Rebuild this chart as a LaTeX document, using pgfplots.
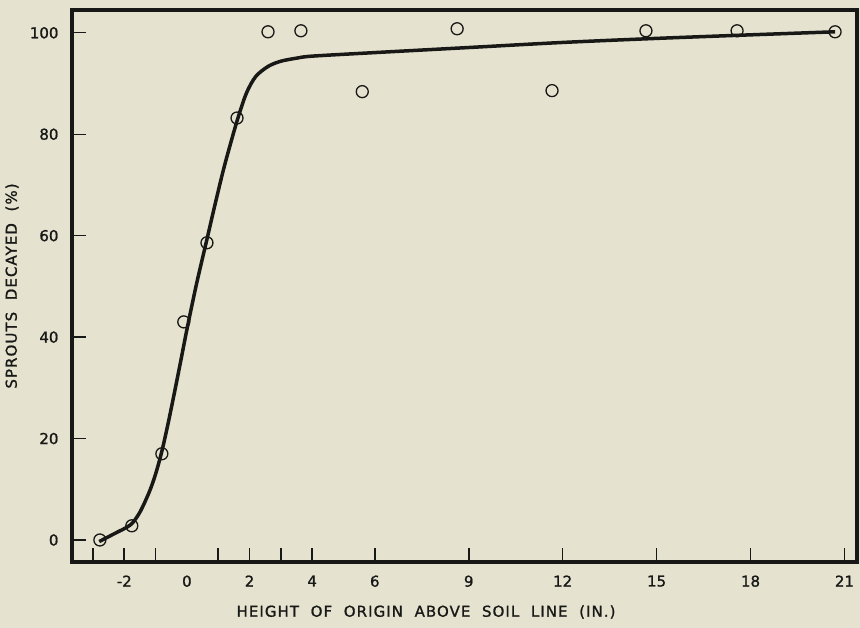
\documentclass[border=0pt]{standalone}
\usepackage{fontspec}
\setmainfont{DejaVu Sans}
\newfontfamily\tickfont{DejaVu Sans}[FakeBold=1.2]
\newfontfamily\labelfont{DejaVu Sans}[FakeBold=1.2, LetterSpace=7]
\usepackage{pgfplots}
\pgfplotsset{compat=1.18}
\usetikzlibrary{backgrounds}
\definecolor{paper}{RGB}{229,227,207}
\definecolor{ink}{RGB}{24,24,22}

\begin{document}
\begin{tikzpicture}
\begin{axis}[
  scale only axis, width=785pt, height=552pt,
  xmin=-3.67, xmax=21.4, ymin=-4.34, ymax=104.5,
  axis line style={ink, line width=4.5pt},
  tick align=inside, xtick pos=bottom, ytick pos=left,
  xtick={-3,-2,-1,1,2,3,4,6,9,12,15,18,21},
  xticklabels={,-2,,,2,,4,6,9,12,15,18,21},
  extra x ticks={0}, extra x tick labels={0},
  extra x tick style={major tick length=0pt},
  ytick={0,20,40,60,80,100},
  yticklabels={0,20,40,60,80,100},
  x tick style={ink, line width=1.6pt}, y tick style={ink, line width=1.3pt},
  major tick length=14pt,
  tick label style={ink, font=\tickfont\fontsize{15}{18}\selectfont},
  xticklabel style={yshift=-10pt},
  yticklabel style={xshift=-10pt},
  xlabel={HEIGHT\ \ OF\ \ ORIGIN\ \ ABOVE\ \ SOIL\ \ LINE\ \ (IN.)},
  ylabel={SPROUTS\ \ DECAYED\ \ (\%)},
  label style={ink, font=\labelfont\fontsize{15}{18}\selectfont},
  xlabel style={at={(axis description cs:0.451,-0.0906)}, anchor=center},
  ylabel style={at={(axis description cs:-0.0764,0.5)}, anchor=center},
]
\coordinate (ll) at (rel axis cs:0,0);
\coordinate (ur) at (rel axis cs:1,1);
\addplot[ink, line width=3.5pt, smooth, tension=0.5] coordinates {
  (-2.8,-0.3) (-2.3,1.3) (-1.8,3) (-1.5,5.5) (-1.2,9.5) (-1.0,13)
  (-0.8,17.5) (-0.6,23) (-0.4,29) (-0.2,35.2) (0,41.5) (0.3,50.3)
  (0.64,59.3) (0.9,66.2) (1.2,73.8) (1.6,82.6) (1.9,88.1) (2.2,91.4)
  (2.6,93.4) (3.0,94.4) (3.5,95) (4,95.4) (6,96.1) (9,97.1)
  (12,98.1) (15,98.9) (18,99.6) (20.7,100.2)
};
\addplot[only marks, mark=o, mark size=6pt, mark options={ink, line width=1.3pt}] coordinates {
  (-2.78,0) (-1.76,2.8) (-0.8,17) (-0.1,43) (0.64,58.6) (1.6,83.2)
  (2.59,100.2) (3.64,100.4) (5.6,88.4) (8.63,100.8) (11.66,88.6)
  (14.66,100.4) (17.57,100.4) (20.7,100.2)
};
\end{axis}
\begin{scope}[on background layer]
  \fill[paper] ([shift={(-72pt,-66pt)}]ll) rectangle ([shift={(3pt,10pt)}]ur);
\end{scope}
\end{tikzpicture}
\end{document}
